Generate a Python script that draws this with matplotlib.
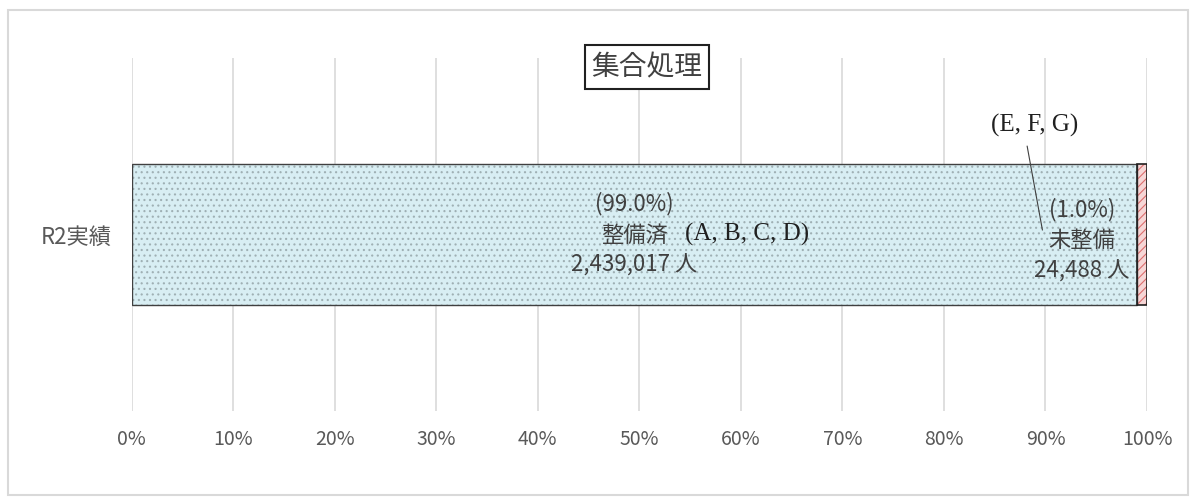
import matplotlib
matplotlib.use('Agg')
import matplotlib.pyplot as plt
from matplotlib.patches import Rectangle

plt.rcParams['font.family'] = ['Noto Sans CJK JP', 'DejaVu Sans']
plt.rcParams['hatch.linewidth'] = 0.8

# 集合処理の整備状況（R2実績）
category = ['R2実績']
segment_names = ['整備済', '未整備']
segment_groups = ['(A, B, C, D)', '(E, F, G)']
population = [2439017, 24488]
share_labels = ['(99.0%)', '(1.0%)']
x_ticks = [0, 10, 20, 30, 40, 50, 60, 70, 80, 90, 100]

total = sum(population)
shares = [p / total * 100 for p in population]

fig = plt.figure(figsize=(11.95, 5.01), dpi=100)
ax = fig.add_axes([131.5 / 1195, 90 / 501, 1015.5 / 1195, 353 / 501])

# 整備済: 水色地にドット
ax.barh(category, shares[0], height=0.4, color='#d8eef3', hatch='...',
        edgecolor='#9fb0b4', linewidth=0, zorder=2)
ax.barh(category, shares[0], height=0.4, color='none',
        edgecolor='#404040', linewidth=1.0, zorder=3)
# 未整備: 赤の斜線
ax.barh(category, shares[1], left=shares[0], height=0.4, color='#f6d6d6',
        hatch='////', edgecolor='#dc6e6e', linewidth=0, zorder=2)
ax.barh(category, shares[1], left=shares[0], height=0.4, color='none',
        edgecolor='#202020', linewidth=1.2, zorder=3)

ax.set_xlim(0, 100)
ax.set_ylim(-0.5, 0.5)
ax.set_xticks(x_ticks)
ax.set_xticklabels([f'{t}%' for t in x_ticks])
ax.tick_params(axis='x', length=0, pad=13, labelsize=14, labelcolor='#595959')
ax.tick_params(axis='y', length=0, pad=14, labelsize=16, labelcolor='#595959')
ax.grid(axis='x', color='#d9d9d9', linewidth=1.2, zorder=0)
ax.set_axisbelow(True)
for s in ax.spines.values():
    s.set_visible(False)

# データラベル
mid0 = shares[0] / 2
ax.text(mid0, 0.0, f'{share_labels[0]}\n{segment_names[0]}\n{population[0]:,} 人',
        ha='center', va='center', fontsize=16, color='#404040',
        linespacing=1.42, zorder=4)
ax.text(mid0 + 5.0, 0.0, segment_groups[0], ha='left', va='center',
        fontsize=18, family='Liberation Serif', color='#202020', zorder=4)

ax.text(93.6, -0.015, f'{share_labels[1]}\n{segment_names[1]}\n{population[1]:,} 人',
        ha='center', va='center', fontsize=16, color='#404040',
        linespacing=1.42, zorder=4)
ax.text(88.9, 0.31, segment_groups[1], ha='center', va='center',
        fontsize=18, family='Liberation Serif', color='#202020', zorder=4)
ax.plot([88.2, 89.7], [0.25, 0.013], color='#404040', linewidth=0.8, zorder=4)

# タイトル
fig.text(647 / 1195, 1 - 67 / 501, '集合処理', ha='center', va='center',
         fontsize=20, color='#404040',
         bbox=dict(boxstyle='square,pad=0.25', facecolor='white',
                   edgecolor='#202020', linewidth=1.5))

# 外枠
fig.patches.append(Rectangle((8 / 1195, 6 / 501), 1180 / 1195, 485 / 501,
                             transform=fig.transFigure, fill=False,
                             edgecolor='#d9d9d9', linewidth=1.5))

fig.savefig('out.png', dpi=100)
